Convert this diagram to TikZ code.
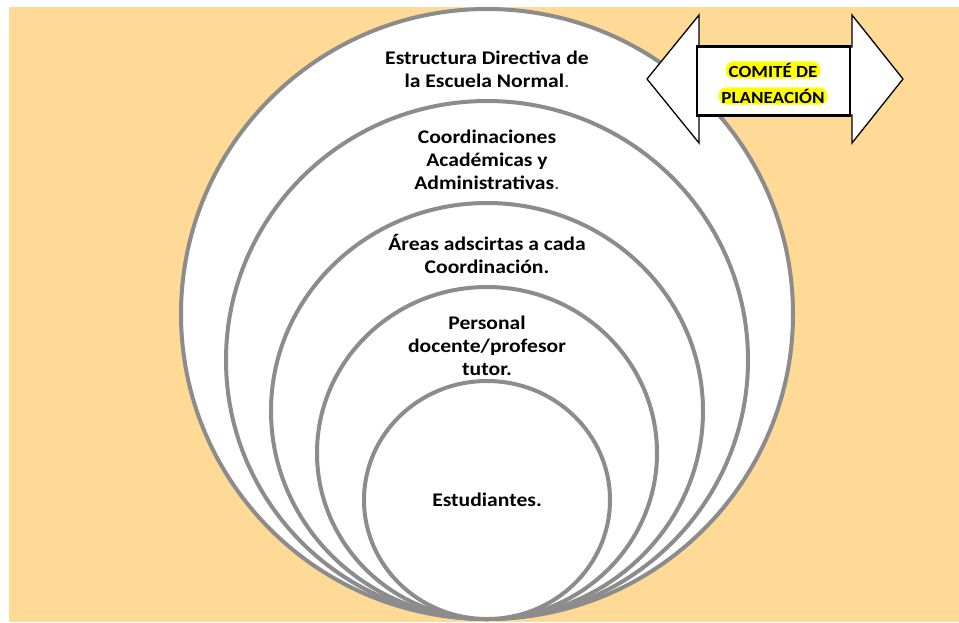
\documentclass[tikz,border=0pt]{standalone}
\usepackage{fontspec}
\setmainfont{Carlito}[FakeStretch=1.12]
\definecolor{peach}{HTML}{FFD996}
\definecolor{ringgray}{HTML}{8C8C8C}
\definecolor{hiyellow}{HTML}{FFFF00}
\tikzset{
  ring/.style={draw=ringgray, line width=4pt, fill=white},
  lbl/.style={align=center, font=\fontsize{19.3}{23}\selectfont\bfseries, text=black, inner sep=0pt},
  hilite/.style={fill=hiyellow, rounded corners=8pt, inner xsep=3pt, inner ysep=1.5pt, font=\fontsize{17}{20}\selectfont\bfseries},
  dblarrow/.style={draw=black, line width=1.3pt, fill=white, line join=miter},
  arrowbox/.style={draw=black, line width=2.4pt, fill=white}
}
\begin{document}
\begin{tikzpicture}[x=1pt,y=-1pt]
\useasboundingbox (0,0) rectangle (959,622);
\fill[white] (0,0) rectangle (959,622);
\fill[peach] (9,7) rectangle (959,622);
% nested rings, all touching at the bottom
\draw[ring] (487,314) ellipse [x radius=306pt, y radius=305pt];
\draw[ring] (487,360) ellipse [x radius=261pt, y radius=259pt];
\draw[ring] (487,411) ellipse [x radius=216pt, y radius=208pt];
\draw[ring] (487,453) ellipse [x radius=170pt, y radius=166pt];
\draw[ring] (487,500) ellipse [x radius=123pt, y radius=119pt];
% labels
\node[lbl] (t1) at (487,69) {Estructura Directiva de\\la Escuela Normal{\mdseries\color{black!75}.}};
\node[lbl] (t2) at (487,160) {Coordinaciones\\Académicas y\\Administrativas{\mdseries\color{black!75}.}};
\node[lbl] (t3) at (487,254) {Áreas adscirtas a cada\\Coordinación.};
\node[lbl] (t4) at (487,346) {Personal\\docente/profesor\\tutor.};
\node[lbl] (t5) at (487,500) {Estudiantes.};
% double arrow
\draw[dblarrow] (647,79) -- (699,15) -- (699,47) -- (852,47) -- (852,15) -- (903,79)
  -- (852,143) -- (852,115) -- (699,115) -- (699,143) -- cycle;
\draw[arrowbox] (697,46.5) rectangle (850,115.5);
\node[hilite] (c1) at (773,70) {COMITÉ DE};
\node[hilite] (c2) at (773,96) {PLANEACIÓN};
\end{tikzpicture}
\end{document}
